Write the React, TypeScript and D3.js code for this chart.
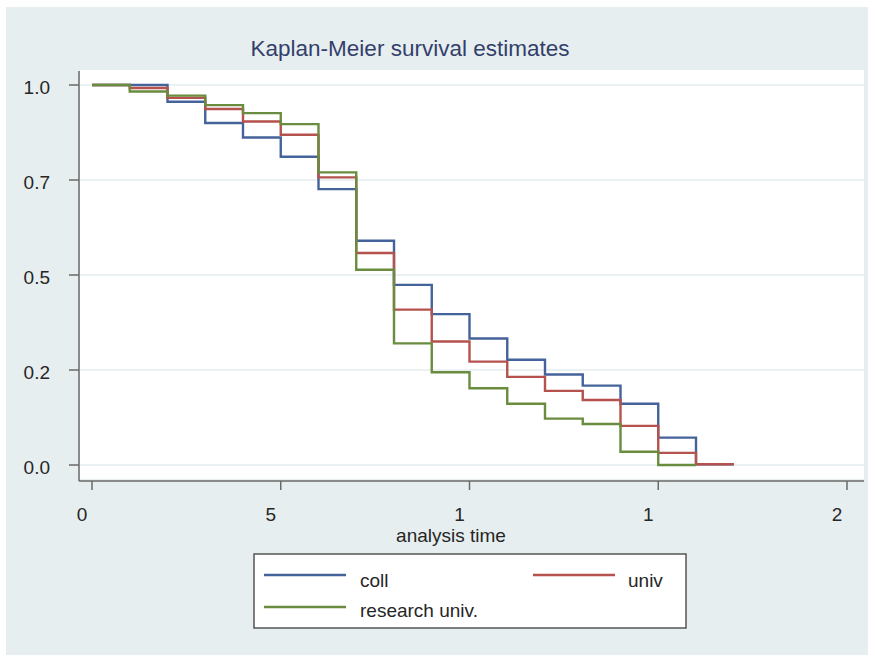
import React from "react";
import * as d3 from "d3";

const times = [0, 1, 2, 3, 4, 5, 6, 7, 8, 9, 10, 11, 12, 13, 14, 15, 16, 17];
const coll = [1.0, 1.0, 0.956, 0.9, 0.862, 0.811, 0.726, 0.59, 0.474, 0.397, 0.333, 0.277, 0.238, 0.209, 0.161, 0.072, 0.002];
const univ = [1.0, 0.992, 0.966, 0.937, 0.904, 0.869, 0.757, 0.558, 0.409, 0.325, 0.272, 0.232, 0.195, 0.171, 0.103, 0.032, 0.002];
const research = [1.0, 0.983, 0.972, 0.947, 0.926, 0.897, 0.77, 0.514, 0.32, 0.244, 0.202, 0.161, 0.122, 0.108, 0.035, 0.0];
const seriesNames = ["coll", "univ", "research univ."];
const seriesColors = ["#45639b", "#b5524e", "#6a8c3e"];
const xTicks = [0, 5, 10, 15, 20];
const xTickLabels = ["0", "5", "1", "1", "2"];
const yTicks = [0, 0.25, 0.5, 0.75, 1];
const yTickLabels = ["0.0", "0.2", "0.5", "0.7", "1.0"];

export default function App() {
  const W = 875, H = 662;
  const x = d3.scaleLinear().domain([0, 20]).range([92, 847]);
  const y = d3.scaleLinear().domain([0, 1]).range([465, 85]);
  const plotL = 80, plotR = 864, plotT = 70, plotB = 479;
  const axisY = 481;

  const makePath = (vals: number[]) => {
    const pts: [number, number][] = [];
    vals.forEach((v, i) => pts.push([times[i], v]));
    pts.push([times[vals.length], vals[vals.length - 1]]);
    return d3.line<[number, number]>().x(d => x(d[0])).y(d => y(d[1])).curve(d3.curveStepAfter)(pts) || "";
  };
  const all = [coll, univ, research];
  const font = "'Liberation Sans', Arial, sans-serif";
  const txt = "#262626";

  return (
    <svg width={W} height={H} style={{ position: "absolute", left: 0, top: 0 }} fontFamily={font}>
      <rect x={0} y={0} width={W} height={H} fill="#ffffff" />
      <rect x={6} y={7} width={862} height={648} fill="#e7eeef" />
      <rect x={plotL} y={plotT} width={plotR - plotL} height={plotB - plotT} fill="#ffffff" />
      {yTicks.map((t, i) => (
        <line key={"g" + i} x1={plotL} x2={plotR} y1={y(t)} y2={y(t)} stroke="#e4ecee" strokeWidth={1.5} />
      ))}
      <text x={410} y={56} textAnchor="middle" fontSize={22.5} fill="#333f6b">Kaplan-Meier survival estimates</text>
      {/* y axis */}
      <line x1={79} x2={79} y1={plotT + 1} y2={axisY} stroke="#6a6a6a" strokeWidth={1.5} />
      {yTicks.map((t, i) => (
        <g key={"y" + i}>
          <line x1={69} x2={79} y1={y(t)} y2={y(t)} stroke="#6a6a6a" strokeWidth={1.5} />
          <text x={50} y={y(t) + 9} textAnchor="end" fontSize={19} fill={txt}>{yTickLabels[i]}</text>
        </g>
      ))}
      {/* x axis */}
      <line x1={79} x2={plotR} y1={axisY} y2={axisY} stroke="#6a6a6a" strokeWidth={1.5} />
      {xTicks.map((t, i) => (
        <g key={"x" + i}>
          <line x1={x(t)} x2={x(t)} y1={axisY} y2={axisY + 9} stroke="#6a6a6a" strokeWidth={1.5} />
          <text x={x(t) - 10} y={521} textAnchor="middle" fontSize={19} fill={txt}>{xTickLabels[i]}</text>
        </g>
      ))}
      <text x={451} y={542} textAnchor="middle" fontSize={19} fill={txt}>analysis time</text>
      {all.map((vals, i) => (
        <path key={"s" + i} d={makePath(vals)} fill="none" stroke={seriesColors[i]} strokeWidth={2.4} strokeLinejoin="miter" />
      ))}
      {/* legend */}
      <rect x={254} y={554} width={432} height={74} fill="#ffffff" stroke="#555" strokeWidth={1.5} />
      {seriesNames.map((n, i) => {
        const col = i === 1 ? 1 : 0;
        const row = i === 2 ? 1 : 0;
        const lx = col === 0 ? 264 : 533;
        const tx = col === 0 ? 360 : 628;
        const ly = row === 0 ? 575 : 607;
        const ty = row === 0 ? 587 : 617;
        return (
          <g key={"l" + i}>
            <line x1={lx} x2={lx + 82} y1={ly} y2={ly} stroke={seriesColors[i]} strokeWidth={2.4} />
            <text x={tx} y={ty} fontSize={19} fill={txt}>{n}</text>
          </g>
        );
      })}
    </svg>
  );
}
